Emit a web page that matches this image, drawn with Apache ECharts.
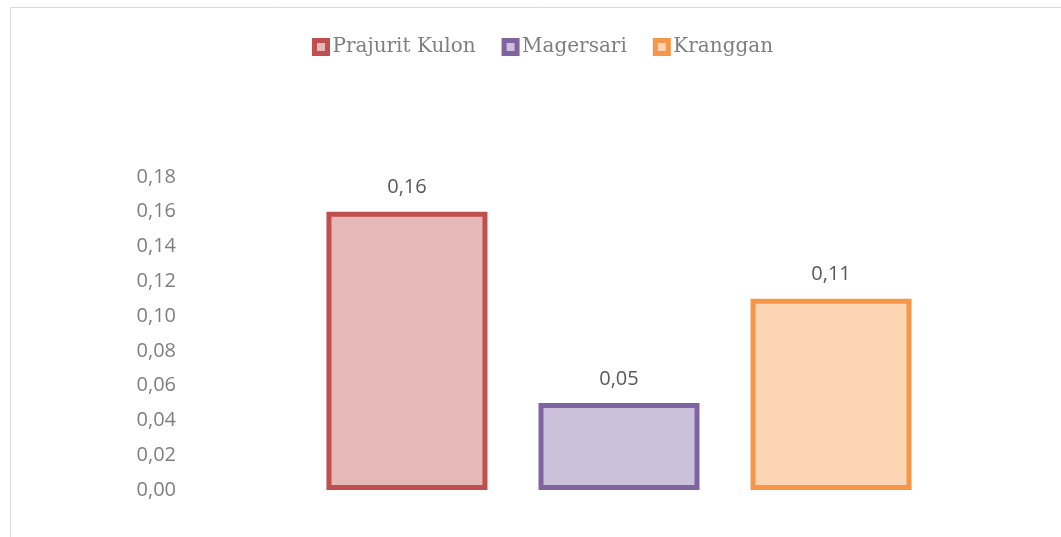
<!DOCTYPE html>
<html>
<head>
<meta charset="utf-8">
<script src="https://cdn.jsdelivr.net/npm/echarts@6/dist/echarts.min.js"></script>
<style>
  html, body { margin: 0; padding: 0; background: #fff; }
  #chart { width: 1061px; height: 537px; }
</style>
</head>
<body>
<div id="chart"></div>
<script>
// data
const seriesNames = ['Prajurit Kulon', 'Magersari', 'Kranggan'];
const seriesValues = [0.16, 0.05, 0.11];
const borderColors = ['#c0504d', '#8064a2', '#f79646'];
const fillColors = ['#e6b9b8', '#ccc1da', '#fcd5b5'];

const fmt = v => v.toFixed(2).replace('.', ',');

const chart = echarts.init(document.getElementById('chart'));

const option = {
    animation: false,
    // outer chart border (only left/top visible in the crop)
    graphic: [{
        type: 'rect',
        shape: { x: 10.5, y: 7.5, width: 1200, height: 700 },
        style: { fill: 'none', stroke: '#d9d9d9', lineWidth: 1 },
        silent: true
    }],
    legend: {
        top: 32,
        left: 307,
        itemWidth: 13,
        itemHeight: 13,
        itemGap: 26,
        icon: 'rect',
        itemStyle: { borderWidth: 5 },
        textStyle: { fontFamily: 'DejaVu Serif', fontSize: 20, color: '#7f7f7f' },
        data: seriesNames
    },
    grid: { left: 184, right: 7, top: 177, bottom: 47 },
    xAxis: {
        type: 'category',
        data: [''],
        axisLine: { show: false },
        axisTick: { show: false },
        axisLabel: { show: false }
    },
    yAxis: {
        type: 'value',
        min: 0,
        max: 0.18,
        interval: 0.02,
        splitLine: { show: false },
        axisLine: { show: false },
        axisTick: { show: false },
        axisLabel: {
            margin: 8,
            padding: [0, 0, 2, 0],
            fontFamily: 'Open Sans',
            fontSize: 20,
            color: '#7f7f7f',
            formatter: v => fmt(v)
        }
    },
    series: seriesNames.map((name, i) => ({
        type: 'bar',
        name,
        data: [seriesValues[i]],
        barWidth: 161,
        barGap: '31.7%',
        itemStyle: {
            color: fillColors[i],
            borderColor: borderColors[i],
            borderWidth: 5
        },
        label: {
            show: true,
            position: 'top',
            distance: 14,
            fontFamily: 'Open Sans',
            fontSize: 20,
            color: '#595959',
            formatter: p => fmt(p.value)
        }
    }))
};

chart.setOption(option);
</script>
</body>
</html>
